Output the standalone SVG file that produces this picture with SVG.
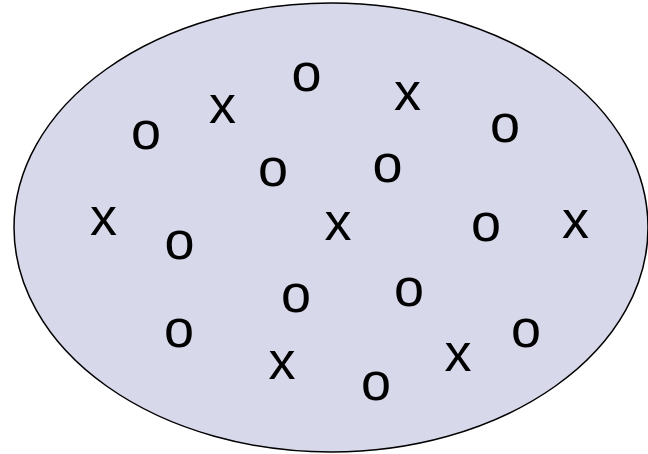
<svg xmlns="http://www.w3.org/2000/svg" width="648" height="454" viewBox="0 0 648 454">
<style>
.t{font-family:"Liberation Sans",Arial,sans-serif;font-size:54px;fill:#000;text-anchor:middle}
</style>
<rect width="648" height="454" fill="#fff"/>
<g id="set">
<ellipse cx="331" cy="227.5" rx="317" ry="224.5" fill="#d8d8eb" stroke="#000" stroke-width="1.5"/>
</g>
<g id="points">
<text class="t" x="146" y="149">o</text>
<text class="t" x="222.5" y="123">x</text>
<text class="t" x="306.5" y="91">o</text>
<text class="t" x="407.5" y="110">x</text>
<text class="t" x="505" y="142">o</text>
<text class="t" x="273" y="186">o</text>
<text class="t" x="387.5" y="182">o</text>
<text class="t" x="103.5" y="235">x</text>
<text class="t" x="179.5" y="259">o</text>
<text class="t" x="338" y="240">x</text>
<text class="t" x="486" y="241">o</text>
<text class="t" x="575.5" y="238">x</text>
<text class="t" x="296" y="312">o</text>
<text class="t" x="409" y="306">o</text>
<text class="t" x="179" y="347">o</text>
<text class="t" x="282" y="379">x</text>
<text class="t" x="376" y="400">o</text>
<text class="t" x="458" y="371">x</text>
<text class="t" x="526" y="347">o</text>
</g>
</svg>
